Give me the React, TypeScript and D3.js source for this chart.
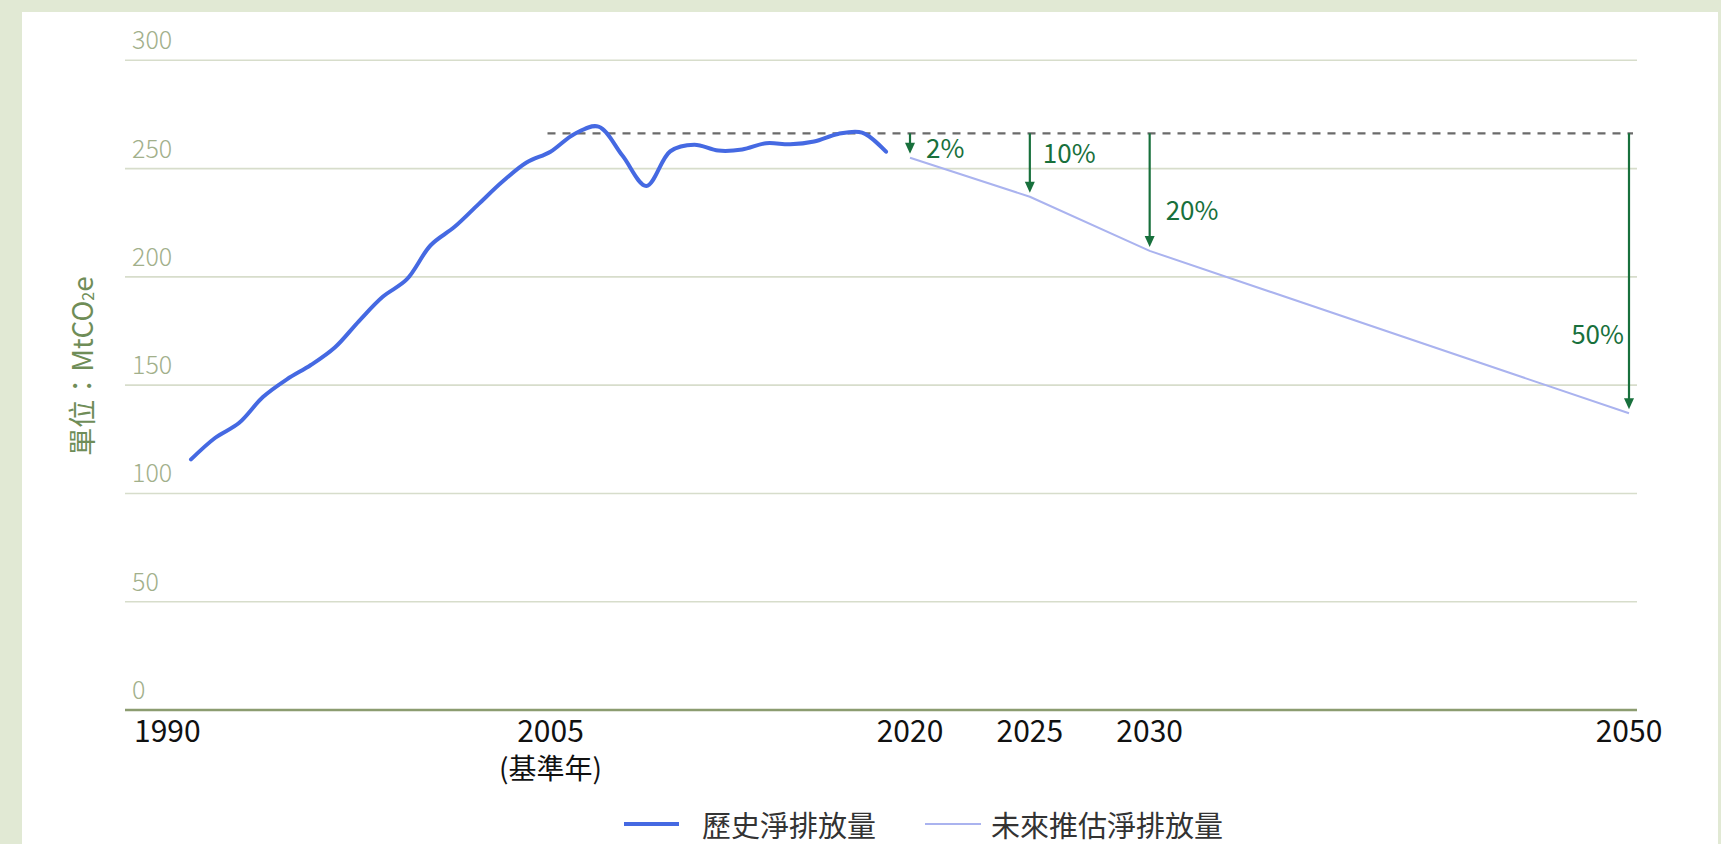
import React, { useEffect } from "react";
import * as d3 from "d3";

// ---- data ----
const histYears = [1990, 1991, 1992, 1993, 1994, 1995, 1996, 1997, 1998, 1999, 2000, 2001, 2002, 2003, 2004, 2005, 2006, 2007, 2008, 2009, 2010, 2011, 2012, 2013, 2014, 2015, 2016, 2017, 2018, 2019];
const histValues = [115.7, 125.6, 132.5, 144.5, 152.7, 159.3, 167.4, 179.5, 190.8, 198.8, 214.6, 223.1, 233.6, 244.0, 252.8, 257.8, 266.0, 269.4, 256.0, 242.0, 258.0, 261.0, 258.3, 258.8, 261.7, 261.2, 262.5, 266.0, 266.6, 257.8];

const projYears = [2020, 2025, 2030, 2050];
const projValues = [255, 237, 212, 137];

const baseYear = 2005;
const baseValue = 266.3;

const reductionYears = [2020, 2025, 2030, 2050];
const reductionLabels = ["2%", "10%", "20%", "50%"];

const yTicks = [0, 50, 100, 150, 200, 250, 300];
const xTickYears = [1990, 2005, 2020, 2025, 2030, 2050];
const xTickLabels = ["1990", "2005", "2020", "2025", "2030", "2050"];
const baseYearNote = "(基準年)";

const seriesNames = ["歷史淨排放量", "未來推估淨排放量"];
const yAxisTitle = "單位：MtCO";

// ---- layout ----
const W = 1721;
const H = 844;
const FONT = "'Noto Sans CJK TC', 'Noto Sans', sans-serif";
const HIST_COLOR = "#4569e2";
const PROJ_COLOR = "#aab3ef";
const GREEN = "#18703c";

export default function App() {
  useEffect(() => {
    document.body.style.margin = "0";
    document.body.style.overflow = "hidden";
  }, []);

  const gridLeft = 125;
  const gridRight = 1637;

  const x = d3.scaleLinear().domain([1990, 2050]).range([191, 1629]);
  const y = d3.scaleLinear().domain([0, 300]).range([710, 60.3]);

  const hist = histYears.map((yr, i) => ({ yr, v: histValues[i] }));
  const proj = projYears.map((yr, i) => ({ yr, v: projValues[i] }));

  const histLine = d3
    .line<{ yr: number; v: number }>()
    .x((d) => x(d.yr))
    .y((d) => y(d.v))
    .curve(d3.curveCatmullRom.alpha(0.5));
  const projLine = d3
    .line<{ yr: number; v: number }>()
    .x((d) => x(d.yr))
    .y((d) => y(d.v))
    .curve(d3.curveLinear);

  // annotation label placement (relative to arrows)
  const labelPlace = [
    { dx: 16, yv: 254.9, anchor: "start" },
    { dx: 13, yv: 252.6, anchor: "start" },
    { dx: 16, yv: 226.2, anchor: "start" },
    { dx: -5, yv: 169.1, anchor: "end" },
  ];

  const baseY = y(baseValue);

  return (
    <svg
      width={W}
      height={H}
      style={{ position: "absolute", left: 0, top: 0, display: "block" }}
    >
      <rect x={0} y={0} width={W} height={H} fill="#e1e9d4" />
      <rect x={22} y={12} width={1696} height={H - 12} fill="#ffffff" />

      {/* gridlines */}
      {yTicks.map((t) =>
        t === 0 ? null : (
          <line
            key={"g" + t}
            x1={gridLeft}
            x2={gridRight}
            y1={y(t)}
            y2={y(t)}
            stroke="#d7ddcb"
            strokeWidth={1.6}
          />
        )
      )}
      {/* y tick labels */}
      {yTicks.map((t) => (
        <text
          key={"yt" + t}
          x={132}
          y={y(t) - 11}
          fontFamily={FONT}
          fontSize={25}
          fontWeight={300}
          fill="#a2b08b"
        >
          {t}
        </text>
      ))}

      {/* x axis line */}
      <line
        x1={gridLeft}
        x2={gridRight}
        y1={y(0)}
        y2={y(0)}
        stroke="#8c9c70"
        strokeWidth={2.6}
      />

      {/* x tick labels */}
      {xTickYears.map((yr, i) => (
        <text
          key={"xt" + yr}
          x={i === 0 ? gridLeft + 9 : x(yr)}
          y={742}
          textAnchor={i === 0 ? "start" : "middle"}
          fontFamily={FONT}
          fontSize={30}
          fill="#111111"
        >
          {xTickLabels[i]}
        </text>
      ))}
      <text
        x={x(baseYear)}
        y={779}
        textAnchor="middle"
        fontFamily={FONT}
        fontSize={28}
        fill="#111111"
      >
        {baseYearNote}
      </text>

      {/* y axis title */}
      <text
        transform={`translate(81,366) rotate(-90)`}
        textAnchor="middle"
        dominantBaseline="central"
        fontFamily={FONT}
        fontSize={28}
        fill="#6f8d58"
      >
        {yAxisTitle}
        <tspan fontSize={16} dy={6}>
          2
        </tspan>
        <tspan dy={-6}>e</tspan>
      </text>

      {/* baseline dashed */}
      <line
        x1={x(baseYear) - 3}
        x2={x(2050) + 4}
        y1={baseY}
        y2={baseY}
        stroke="#6b6b6b"
        strokeWidth={2.2}
        strokeDasharray="8 7"
      />

      {/* series */}
      <path
        d={histLine(hist) || ""}
        fill="none"
        stroke={HIST_COLOR}
        strokeWidth={4}
        strokeLinecap="round"
        strokeLinejoin="round"
      />
      <path
        d={projLine(proj) || ""}
        fill="none"
        stroke={PROJ_COLOR}
        strokeWidth={2}
        strokeLinejoin="round"
      />

      {/* reduction arrows */}
      {reductionYears.map((yr, i) => {
        const ax = x(yr);
        const v = projValues[projYears.indexOf(yr)];
        const tip = y(v) - 4;
        const lp = labelPlace[i];
        return (
          <g key={"ar" + yr}>
            <line
              x1={ax}
              x2={ax}
              y1={baseY}
              y2={tip - 9}
              stroke={GREEN}
              strokeWidth={2.2}
            />
            <path
              d={`M${ax - 5},${tip - 11} L${ax + 5},${tip - 11} L${ax},${tip} Z`}
              fill={GREEN}
            />
            <text
              x={ax + lp.dx}
              y={y(lp.yv)}
              textAnchor={lp.anchor as any}
              fontFamily={FONT}
              fontSize={26}
              fill={GREEN}
            >
              {reductionLabels[i]}
            </text>
          </g>
        );
      })}

      {/* legend */}
      <line x1={624} x2={679} y1={824} y2={824} stroke={HIST_COLOR} strokeWidth={4} />
      <text
        x={702}
        y={824}
        dominantBaseline="central"
        fontFamily={FONT}
        fontSize={29}
        fill="#333333"
      >
        {seriesNames[0]}
      </text>
      <line x1={925} x2={981} y1={824} y2={824} stroke={PROJ_COLOR} strokeWidth={2} />
      <text
        x={991}
        y={824}
        dominantBaseline="central"
        fontFamily={FONT}
        fontSize={29}
        fill="#333333"
      >
        {seriesNames[1]}
      </text>
    </svg>
  );
}
